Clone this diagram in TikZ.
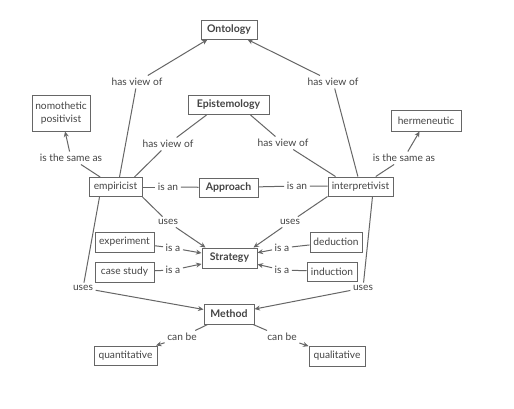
\documentclass[tikz,border=0pt]{standalone}
\usepackage{fontspec}
\setmainfont{Lato}
\usetikzlibrary{arrows.meta}
\definecolor{ink}{HTML}{444444}
\definecolor{edgec}{HTML}{666666}
\begin{document}
\begin{tikzpicture}[x=1pt,y=-1pt,
  box/.style={draw=edgec, line width=1pt, text=ink, font=\fontsize{10.2}{13}\selectfont, inner xsep=3pt, inner ysep=0pt, minimum height=19pt, align=center},
  key/.style={box, font=\fontsize{10.5}{12}\selectfont\bfseries},
  lbl/.style={text=ink, font=\fontsize{10.2}{12}\selectfont, inner sep=2.5pt},
  ln/.style={draw=edgec, line width=1pt},
  arr/.style={ln, -{Stealth[length=5.5pt,width=5pt]}}]
\useasboundingbox (0,0) rectangle (514,408);
\fill[white] (0,0) rectangle (514,408);
% concept boxes
\node[key, minimum width=56pt] (ont) at (229,29.5) {Ontology};
\node[key, minimum width=81pt] (epi) at (228.5,105) {Epistemology};
\node[box, minimum width=58pt, minimum height=36pt] (nomo) at (61,113) {nomothetic\\positivist};
\node[box, minimum width=70pt, minimum height=21pt] (herm) at (426,120.5) {hermeneutic};
\node[box, minimum width=53pt] (emp) at (115.5,187) {empiricist};
\node[key, minimum width=59pt] (appr) at (228.5,187.5) {Approach};
\node[box, minimum width=65pt] (intp) at (360.5,186.5) {interpretivist};
\node[key, minimum width=55pt, minimum height=20pt] (strat) at (229.5,258) {Strategy};
\node[box, minimum width=59pt, minimum height=20pt] (expt) at (124.5,242) {experiment};
\node[box, minimum width=59pt, minimum height=20pt] (case) at (124.5,272) {case study};
\node[box, minimum width=52pt, minimum height=20pt] (ded) at (336,242) {deduction};
\node[box, minimum width=50pt, minimum height=19pt] (ind) at (332,271.5) {induction};
\node[key, minimum width=50pt, minimum height=20pt] (meth) at (229,314) {Method};
\node[box, minimum width=63pt] (quan) at (125.5,355.5) {quantitative};
\node[box, minimum width=56pt, minimum height=20pt] (qual) at (337,356) {qualitative};
% link labels
\node[lbl] (l1) at (137,82) {has view of};
\node[lbl] (l2) at (333,82) {has view of};
\node[lbl] (l3) at (168,144) {has view of};
\node[lbl] (l4) at (283,143) {has view of};
\node[lbl] (l5) at (71,158) {is the same as};
\node[lbl] (l6) at (404,158) {is the same as};
\node[lbl] (l7) at (168,187) {is an};
\node[lbl] (l8) at (297,186) {is an};
\node[lbl] (l9) at (168,222) {uses};
\node[lbl] (l10) at (290,222) {uses};
\node[lbl] (l11) at (173,248) {is a};
\node[lbl] (l12) at (173,270) {is a};
\node[lbl] (l13) at (282,248) {is a};
\node[lbl] (l14) at (282,270) {is a};
\node[lbl] (l15) at (83,288) {uses};
\node[lbl] (l16) at (363,288) {uses};
\node[lbl] (l17) at (182,337) {can be};
\node[lbl] (l18) at (282,337) {can be};
% connectors
\draw[ln] (emp.north) ++(4,0) coordinate (e1) -- (l1);
\draw[arr] (l1) -- ([xshift=7pt]ont.south west);
\draw[ln] (intp) -- (l2);
\draw[arr] (l2) -- ([xshift=-10pt]ont.south east);
\draw[ln] (epi.south) ++(-22,0) coordinate (ep1) -- (l3);
\draw[ln] (l3) -- ([xshift=-8pt]emp.north east);
\draw[ln] (epi.south) ++(22,0) coordinate (ep2) -- (l4);
\draw[ln] (l4) -- ([xshift=8pt]intp.north west);
\draw[ln] (emp) -- (l5);
\draw[arr] (l5) -- (nomo);
\draw[ln] (intp) -- (l6);
\draw[arr] (l6) -- (herm);
\draw[ln] (emp) -- (l7);
\draw[ln] (l7) -- (appr);
\draw[ln] (intp) -- (l8);
\draw[ln] (l8) -- (appr);
\draw[ln] (emp.south east) -- (l9);
\draw[arr] (l9) -- ([xshift=4pt]strat.north west);
\draw[ln] (intp.south west) -- (l10);
\draw[arr] (l10) -- ([xshift=-4pt]strat.north east);
\draw[ln] (expt) -- (l11);
\draw[arr] (l11) -- (strat);
\draw[ln] (case) -- (l12);
\draw[arr] (l12) -- (strat);
\draw[ln] (ded) -- (l13);
\draw[arr] (l13) -- (strat);
\draw[ln] (ind) -- (l14);
\draw[arr] (l14) -- (strat);
\draw[ln] (emp.south) ++(-16,0) coordinate (e2) -- (l15);
\draw[arr] (l15) -- (meth);
\draw[ln] (intp.south) ++(12,0) coordinate (i2) -- (l16);
\draw[arr] (l16) -- (meth);
\draw[ln] (meth) -- (l17);
\draw[arr] (l17) -- (quan);
\draw[ln] (meth) -- (l18);
\draw[arr] (l18) -- (qual);
\end{tikzpicture}
\end{document}
